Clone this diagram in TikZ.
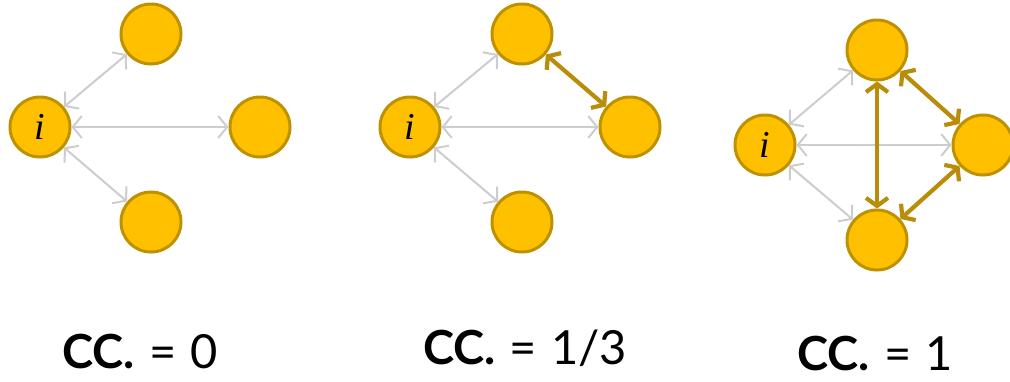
\documentclass[tikz,border=0pt]{standalone}
\usepackage{fontspec}
\setmainfont{Lato}
\newfontfamily\ifont{Liberation Serif}
\usetikzlibrary{arrows.meta}
\definecolor{nodefill}{RGB}{255,192,0}
\definecolor{nodeborder}{RGB}{190,145,0}
\definecolor{goldedge}{RGB}{185,140,10}
\definecolor{grayedge}{RGB}{205,205,205}
\newcommand{\eqsp}{\hspace{14pt}}
\tikzset{
  vert/.style={circle,fill=nodefill,draw=nodeborder,line width=3pt,minimum size=60pt,inner sep=0pt,font=\ifont\itshape\fontsize{38}{38}\selectfont},
  weak/.style={draw=grayedge,line width=2pt,{Straight Barb[length=9pt,width=22pt]}-{Straight Barb[length=9pt,width=22pt]}},
  strong/.style={draw=goldedge,line width=4.2pt,{Straight Barb[length=8pt,width=22pt]}-{Straight Barb[length=8pt,width=22pt]}},
  cclabel/.style={anchor=base,inner sep=0pt,font=\fontsize{47}{47}\selectfont}
}
\begin{document}
\begin{tikzpicture}[x=1pt,y=-1pt]
\useasboundingbox (0,0) rectangle (1010,381);
% panel 1
\node[vert] (a1) at (40,127) {i};
\node[vert] (b1) at (151,34) {};
\node[vert] (c1) at (260,127) {};
\node[vert] (d1) at (151,222) {};
\draw[weak] (a1) -- (b1);
\draw[weak] (a1) -- (c1);
\draw[weak] (a1) -- (d1);
% panel 2
\node[vert] (a2) at (410,127) {i};
\node[vert] (b2) at (522,34) {};
\node[vert] (c2) at (630,127) {};
\node[vert] (d2) at (522,222) {};
\draw[weak] (a2) -- (b2);
\draw[weak] (a2) -- (c2);
\draw[weak] (a2) -- (d2);
\draw[strong] (b2) -- (c2);
% panel 3
\node[vert] (a3) at (765,145) {i};
\node[vert] (b3) at (877,50) {};
\node[vert] (c3) at (983,145) {};
\node[vert] (d3) at (877,240) {};
\draw[weak] (a3) -- (b3);
\draw[weak] (a3) -- (c3);
\draw[weak] (a3) -- (d3);
\draw[strong] (b3) -- (d3);
\draw[strong] (b3) -- (c3);
\draw[strong] (c3) -- (d3);
% labels
\node[cclabel] (l1) at (140,368) {\textbf{CC.}\eqsp=\eqsp0};
\node[cclabel] (l2) at (525,364) {\textbf{CC.}\eqsp=\eqsp1/3};
\node[cclabel] (l3) at (875,370) {\textbf{CC.}\eqsp=\eqsp1};
\end{tikzpicture}
\end{document}
